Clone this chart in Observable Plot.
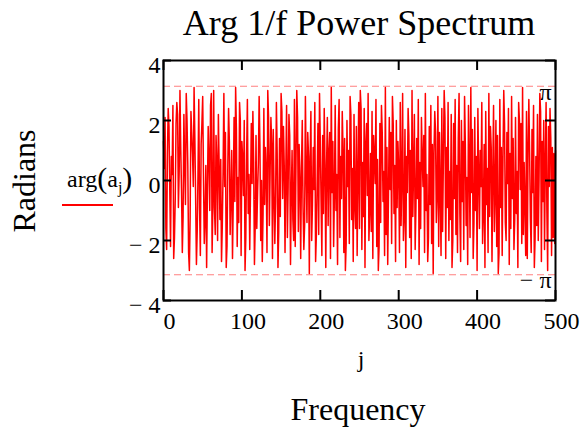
<!DOCTYPE html>
<html>
<head>
<meta charset="utf-8">
<script src="https://cdn.jsdelivr.net/npm/d3@7"></script>
<script src="https://cdn.jsdelivr.net/npm/@observablehq/plot@0.6"></script>
<style>
  html, body { margin: 0; padding: 0; background: white; }
  #chart { width: 587px; height: 427px; }
</style>
</head>
<body>
<div id="chart"></div>
<script>
// arg(a_j) values read (estimated) from the reference, j = 0..500
const phase = [
  1.3, 0.4, 2.1, -1.6, -2.3, 0.9, 2.4, 1.8, -0.3, -2.2, 0.8, 0.2, 2.5, -2.6, -1.9, -0.6, 1.9, 2.6, 2.2, -0.9, 0.3, 3.0, 1.1, -0.4, -2.4,
  -1.2, 2.2, 0.6, -0.8, 2.9, 2.0, 0.5, -2.4, -3.0, -1.2, 2.3, 1.6, 0.9, -0.2, 3.1, 1.4, -0.6, -2.8, -1.7, 0.2, 2.7, -0.9, -2.5, 1.2, 1.9,
  2.8, 0.1, -2.1, -1.3, 0.5, -2.9, -0.4, 1.8, 0.7, -1.0, 2.5, 2.9, -2.4, -0.8, 3.0, -0.9, -1.8, 1.5, 0.6, -2.0, 2.2, 0.4, -1.3, 0.7, -2.7,
  -1.5, 0.3, 2.9, -0.2, 1.6, -2.9, -2.2, 0.4, 2.4, 1.3, -1.8, -0.5, 1.0, -2.6, -0.6, 2.1, -0.7, 3.1, 1.7, -2.2, 0.1, -1.4, 2.6, 2.0, -2.5,
  1.3, 0.7, -0.5, 2.0, -3.0, -1.9, 0.8, 2.7, -1.1, 0.2, -2.3, -0.3, 1.9, -0.1, 2.3, 0.6, -2.8, -1.5, 1.5, -1.6, -0.4, 0.6, 2.8, 1.2, -2.0,
  0.0, -2.7, -1.1, 2.4, -0.8, 1.1, 0.3, -2.4, 3.0, 2.1, -1.5, 0.3, 2.1, 1.2, -2.6, 1.7, -0.4, -2.1, -0.7, 2.6, 0.9, -2.9, -1.7, 1.4, -1.2,
  2.9, 2.3, -0.6, 1.8, 0.5, -2.4, 0.2, 2.5, -1.9, -0.2, 2.2, 1.5, -2.8, -0.5, 1.0, -1.3, -2.0, 2.7, -2.2, 0.6, 3.0, 2.1, -1.7, 1.2, 0.1,
  -2.6, 0.4, 2.0, -0.9, -2.3, -1.5, 2.8, 0.3, -1.4, 1.6, 0.8, -3.1, 0.7, 2.3, -2.0, -0.8, 1.1, -0.3, 2.6, -2.7, -1.8, 0.0, 1.9, -1.8, 2.9,
  1.3, -0.7, -2.5, 1.5, -1.1, 2.4, 0.5, -2.9, 0.5, 2.1, -1.5, 0.9, 1.6, -2.6, 3.1, -0.4, 1.3, -2.2, -0.5, 2.5, -1.0, 0.2, -2.8, 1.7, 2.7,
  -1.9, 0.8, -0.6, 2.3, 1.0, -2.4, 1.4, -3.0, -2.1, 2.0, -0.2, 1.0, -2.1, 2.8, 2.2, -1.3, 0.4, -2.7, 2.2, -0.8, -1.6, 1.8, -2.5, 0.1, 2.6,
  -1.6, 3.0, 2.4, -2.3, 0.6, -1.2, 2.4, -2.9, 1.2, 1.9, -0.5, 2.9, -2.0, -1.0, 0.9, -1.7, 2.3, -2.6, 1.5, 0.8, -0.1, 2.7, -2.2, 0.7, -3.0,
  -2.2, 1.9, -1.4, 2.5, 1.6, -0.7, 0.3, -2.5, 3.1, -1.8, 1.1, -2.8, -0.4, 2.1, -0.3, 1.6, -2.1, 2.8, 1.9, -1.1, 0.5, -2.7, 2.0, -0.9, 1.3,
  0.4, -2.4, 2.6, -1.5, 0.0, 2.9, -2.0, -1.2, 1.7, -2.9, 0.8, -0.4, 2.4, 1.5, -1.9, 1.0, -2.6, 3.0, -1.2, 0.4, 2.2, -2.3, -0.9, 1.4, -0.6,
  2.7, -2.8, 0.6, -1.6, 2.1, 0.8, -0.2, 1.5, -2.4, 2.9, -1.0, 0.2, -2.7, -1.9, 1.8, -0.8, 2.5, -2.1, 1.2, -3.1, 0.9, 2.3, 1.6, -1.4, -0.5,
  2.8, -2.2, 1.6, -0.3, -2.5, 2.4, -1.7, 0.7, 3.0, 2.1, -2.6, 1.1, -0.9, 2.6, -2.0, 0.3, -1.3, 2.2, -2.9, -2.0, 1.9, -0.6, 2.7, -1.8, 0.5,
  -2.4, 1.4, 2.9, -1.1, -2.7, 2.0, -0.7, 1.3, -2.3, 2.8, 1.2, -1.5, 0.1, -2.8, 2.5, 0.6, -1.9, 3.1, -0.4, 1.7, -2.6, -1.4, 2.1, -1.0, 0.8,
  -3.0, 2.4, 0.3, -1.6, 1.0, -0.2, 2.6, -2.1, -1.1, 1.2, -2.9, 2.3, -0.8, 0.4, -2.4, 2.9, -1.2, 1.8, 1.1, -2.7, 0.2, 2.5, -1.7, -0.5, 2.0,
  -2.2, 1.5, -3.1, -2.4, 2.7, -0.9, 1.1, -2.5, 0.7, 3.0, 1.9, -1.4, -2.0, 1.6, -0.1, 2.4, -2.8, 0.9, -1.6, 2.8, -0.6, 1.4, -2.3, -1.3, 2.1,
  -1.1, 0.3, -2.9, 2.6, 2.0, -0.3, 1.9, -2.1, 3.1, -1.8, 0.6, -0.8, -2.5, 2.3, -2.6, 1.0, 2.7, 0.9, -1.3, -2.4, 1.7, -0.4, 2.5, -2.9, -1.9,
  0.8, -1.5, 2.2, -2.0, 0.0, 2.9, 2.3, -2.7, 1.3, -0.7, 2.0, -2.3, 0.5, 2.6, -1.0, -3.0, 1.8, -0.2, 2.4, 1.4, -2.5, 1.1, -1.9, 0.9, -2.1,
  1.0
];
const xTicks = [0, 100, 200, 300, 400, 500];
const yTicks = [-4, -2, 0, 2, 4];
const piLines = [Math.PI, -Math.PI];
const piLabels = ["π", "− π"];

const titleText = "Arg 1/f Power Spectrum";
const yTitle = "Radians";
const xName = "j";
const xTitle = "Frequency";

const rows = phase.map((v, i) => ({j: i, v}));
const serif = "'Liberation Serif', 'Times New Roman', Times, serif";

const W = 587, H = 427;
const mL = 163, mR = 32, mT = 60, mB = 127;
const innerW = W - mL - mR, innerH = H - mT - mB;

const fmtY = d => d < 0 ? "− " + Math.abs(d) : String(d);
const piRows = piLines.map((y, i) => ({y, label: piLabels[i]}));

const chart = Plot.plot({
  width: W,
  height: H,
  marginLeft: mL,
  marginRight: mR,
  marginTop: mT,
  marginBottom: mB,
  style: {fontFamily: serif, fontSize: "24px", background: "white", color: "black", overflow: "visible"},
  x: {domain: [0, 500]},
  y: {domain: [-4, 4]},
  marks: [
    Plot.ruleY(piLines, {y: d => d, stroke: "#ff8080", strokeWidth: 1.2, strokeDasharray: "7,4"}),
    Plot.line(rows, {x: "j", y: "v", stroke: "#ff0000", strokeWidth: 1.5}),
    Plot.text(piRows, {y: "y", text: "label", frameAnchor: "right", textAnchor: "end", dx: -4, dy: 6, fontSize: 24, fill: "black"}),
    Plot.tickX(xTicks, {x: d => d, insetTop: innerH - 10, stroke: "black", strokeWidth: 2}),
    Plot.tickX(xTicks, {x: d => d, insetBottom: innerH - 10, stroke: "black", strokeWidth: 2}),
    Plot.tickY(yTicks, {y: d => d, insetRight: innerW - 8, stroke: "black", strokeWidth: 2}),
    Plot.tickY(yTicks, {y: d => d, insetLeft: innerW - 10, stroke: "black", strokeWidth: 2}),
    Plot.axisX(xTicks, {tickSize: 0, tickPadding: 11, dx: 6, label: null, fontSize: 24}),
    Plot.axisY(yTicks, {tickSize: 0, tickPadding: 3, dy: 5, label: null, tickFormat: fmtY, fontSize: 24}),
    Plot.frame({stroke: "black", strokeWidth: 2})
  ]
});

const svg = d3.select(chart);
svg.append("text")
  .attr("x", 359).attr("y", 35)
  .attr("text-anchor", "middle")
  .attr("font-family", serif).attr("font-size", 36)
  .text(titleText);
svg.append("text")
  .attr("transform", "translate(35,181) rotate(-90)")
  .attr("text-anchor", "middle")
  .attr("font-family", serif).attr("font-size", 32)
  .text(yTitle);
svg.append("text")
  .attr("x", 361).attr("y", 367)
  .attr("text-anchor", "middle")
  .attr("font-family", serif).attr("font-size", 24)
  .text(xName);
svg.append("text")
  .attr("x", 358).attr("y", 420)
  .attr("text-anchor", "middle")
  .attr("font-family", serif).attr("font-size", 32)
  .text(xTitle);

// legend
const leg = svg.append("text")
  .attr("x", 67).attr("y", 187)
  .attr("text-anchor", "start")
  .attr("font-family", serif).attr("font-size", 24);
leg.append("tspan").text("arg");
leg.append("tspan").attr("font-size", 30).attr("dy", 1).text("(");
leg.append("tspan").attr("dy", -1).text("a");
leg.append("tspan").attr("font-size", 16).attr("dy", 6).text("j");
leg.append("tspan").attr("font-size", 30).attr("dy", -5).text(")");
svg.append("line")
  .attr("x1", 62).attr("x2", 113).attr("y1", 205).attr("y2", 205)
  .attr("stroke", "#ff0000").attr("stroke-width", 2);

document.getElementById("chart").appendChild(chart);
</script>
</body>
</html>
